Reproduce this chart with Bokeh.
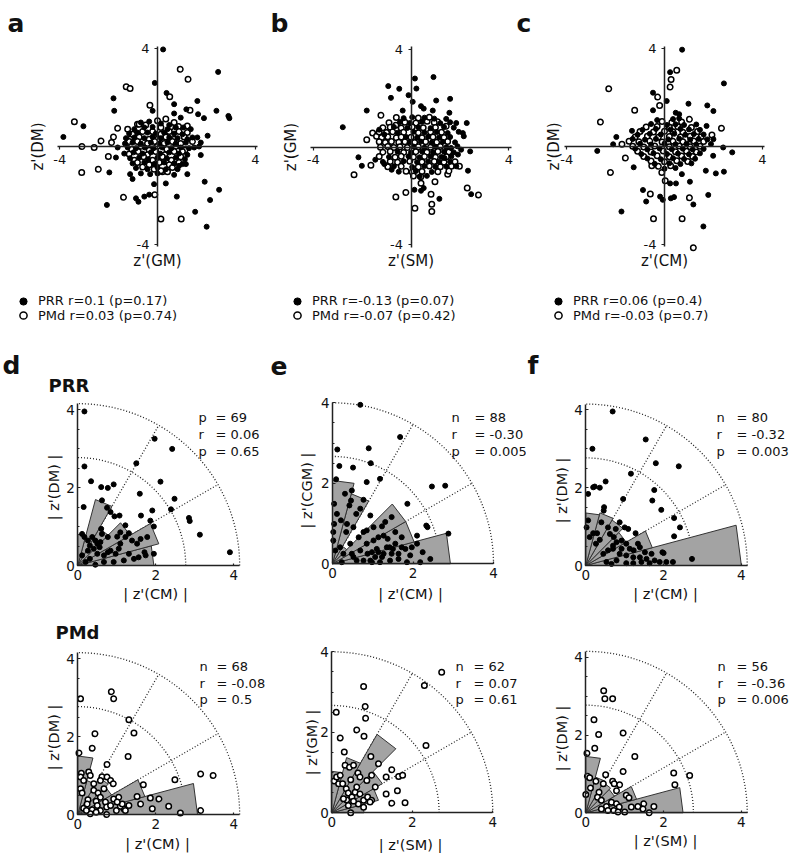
import math
from bokeh.plotting import figure
from bokeh.models import Range1d, LinearAxis, FixedTicker, Label, Legend, LegendItem
from bokeh.layouts import column, row
from bokeh.embed import file_html
from bokeh.resources import INLINE

FONT = "DejaVu Sans"
K = 1.0  # reference pixel -> page pixel

# ------------------------------------------------------------------ data
TOP_TICKS = [-4, 4]
POLAR_TICKS = [0, 2, 4]
POLAR_MINOR = [0.5, 1, 1.5, 2.5, 3, 3.5]
BIN_EDGES_DEG = [0, 15, 30, 45, 60, 75, 90]

# panel a : z'(GM) vs z'(DM)
A_PRR = [(0.23,3.97),(2.48,3.05),(-0.11,2.6),(0.37,2.19),(-1.8,1.97),(1.63,1.86),(-1.77,1.46),(-0.2,1.46),
         (0.68,1.73),(1.18,1.52),(2.41,1.46),(2.9,1.25),(2.94,1.16),(1.9,1.16),(1.66,1.32),(-3.03,0.83),
         (-3.85,0.39),(2.05,0.44),(1.77,-0.35),(-1.97,-1.06),(1.22,-1.13),(1.93,-1.44),(2.52,-1.77),(2.15,-2.19),
         (-2.07,-2.39),(-0.88,-2.12),(-0.78,-2.26),(-0.54,-2.05),(-0.34,-1.97),(0.79,-2.05),(1.54,-2.67),(2.01,-3.28),
         (-0.14,-1.54),(0.34,-1.51),(-1.12,-1.13),(-1.02,-1.33),(-1.63,-0.04),(-1.7,-0.45),(1.16,-0.72),(0.88,-0.79),
         (1.5,-0.04),(1.7,0.0),(0.95,1.18),(1.36,0.71),(1.43,0.37),(0.68,1.35),
         (-0.68,0.98),(-0.34,1.02),(0.14,0.94),(0.48,0.88),
         (-0.95,0.71),(-0.54,0.78),(-0.2,0.8),(0.41,0.71),(0.75,0.78),(1.06,0.78),
         (-1.16,0.53),(-0.82,0.57),(-0.41,0.57),(-0.07,0.53),(0.27,0.57),(0.68,0.53),(1.02,0.5),
         (-1.29,0.34),(-0.95,0.37),(-0.54,0.34),(-0.2,0.39),(0.14,0.34),(0.48,0.37),(0.82,0.34),(1.22,0.3),(1.63,0.37),
         (-1.33,0.12),(-1.02,0.16),(-0.68,0.12),(-0.27,0.16),(0.07,0.12),(0.41,0.16),(0.75,0.12),(1.16,0.16),(1.77,0.16),
         (-1.22,-0.04),(-0.88,-0.07),(-0.52,-0.04),(-0.16,-0.07),(0.2,-0.04),(0.57,-0.07),(0.95,-0.04),(1.29,-0.07),
         (-1.36,-0.29),(-0.98,-0.24),(-0.61,-0.29),(-0.27,-0.24),(0.11,-0.29),(0.48,-0.24),(0.88,-0.29),(1.22,-0.34),
         (-1.12,-0.48),(-0.75,-0.45),(-0.38,-0.52),(0.0,-0.45),(0.38,-0.48),(0.75,-0.45),(1.12,-0.52),
         (-1.02,-0.69),(-0.54,-0.65),(-0.14,-0.72),(0.27,-0.65),(0.68,-0.69),(1.02,-0.72),
         (-0.88,-0.88),(-0.41,-0.93),(0.0,-0.86),(0.34,-0.93),(0.82,-0.93),
         (-0.68,-1.1),(-0.3,-1.13),(0.0,-1.1),(0.68,-1.16)]
A_PMD = [(0.93,3.16),(1.25,2.75),(-1.28,2.44),(-1.12,2.37),(0.5,2.03),(-0.31,1.69),(1.33,1.48),(0.34,1.12),
         (-3.4,1.01),(-1.63,0.75),(-1.8,0.39),(-1.88,0.16),(-2.31,0.23),(-3.09,0.0),(-2.59,-0.04),(-2.01,-0.41),
         (-2.42,-0.93),(-3.1,-1.06),(-1.39,-2.08),(-0.11,-1.97),(0.14,-2.97),(0.97,-2.97),(-0.48,-0.82),(0.2,-1.03),
         (0.41,-1.03),(0.86,0.82),(1.22,0.84),(1.22,0.57),(-0.82,0.91),(-1.09,0.3),
         (-0.75,0.91),(0.0,1.05),(0.68,0.98),
         (-1.22,0.71),(-0.48,0.88),(0.14,0.78),(0.54,0.8),
         (-1.02,0.5),(-0.61,0.61),(-0.2,0.61),(0.14,0.5),(0.48,0.61),(0.88,0.61),
         (-1.12,0.3),(-0.75,0.39),(-0.34,0.3),(0.0,0.3),(0.34,0.39),(0.68,0.3),(1.09,0.39),
         (-1.16,0.2),(-0.82,0.2),(-0.41,0.12),(-0.11,0.2),(0.27,0.12),(0.61,0.2),(0.95,0.12),(1.43,0.2),
         (-1.06,-0.11),(-0.68,0.01),(-0.34,-0.15),(0.0,0.01),(0.38,-0.11),(0.75,0.01),(1.12,-0.15),
         (-1.16,-0.31),(-0.79,-0.2),(-0.41,-0.34),(-0.07,-0.2),(0.3,-0.34),(0.68,-0.2),(1.02,-0.2),
         (-0.95,-0.56),(-0.57,-0.42),(-0.2,-0.56),(0.2,-0.42),(0.57,-0.56),(0.95,-0.42),
         (-0.82,-0.65),(-0.34,-0.75),(0.07,-0.65),(0.48,-0.75),(0.88,-0.65),
         (-0.61,-0.84),(-0.14,-0.93),(0.14,-0.99),(0.61,-0.86)]

# panel b : z'(SM) vs z'(GM)
B_PRR = [(0.16,2.8),(0.92,2.86),(-0.93,2.49),(-0.48,2.38),(0.22,2.39),(-0.82,2.01),(-0.1,2.12),(0.07,1.85),
         (1.03,1.9),(1.6,1.97),(0.41,1.67),(0.52,1.57),(0.89,1.49),(1.57,1.4),(-1.81,1.49),(-2.79,0.81),
         (-0.34,1.49),(1.44,1.15),(2.28,0.98),(1.85,0.98),(2.12,0.57),(2.16,0.44),(2.05,-0.11),(2.42,-0.18),
         (1.92,-0.31),(1.64,-0.04),(-2.15,-0.42),(-2.01,-0.77),(-1.46,-0.52),(-1.09,-0.7),(-0.79,-0.93),(2.33,-0.97),
         (2.46,-1.93),(0.14,-1.75),(0.41,-1.79),(0.52,-1.68),(1.16,-2.12),(-1.3,0.71),(-1.09,0.51),(1.85,-0.79),(1.37,-0.45),
         (-0.3,1.18),(0.05,1.22),(0.55,1.2),(0.95,1.16),
         (-0.45,1.02),(-0.05,0.98),(0.45,1.03),(1.2,0.97),(1.6,1.01),
         (-0.7,0.82),(-0.15,0.78),(0.3,0.81),(0.8,0.77),(1.35,0.82),(1.75,0.79),
         (-0.55,0.58),(0.1,0.62),(0.55,0.59),(1.05,0.61),(1.5,0.57),(1.95,0.62),
         (-0.2,0.41),(0.25,0.38),(0.7,0.42),(1.15,0.39),(1.6,0.41),
         (-0.05,0.19),(0.4,0.22),(0.85,0.18),(1.3,0.21),(1.8,0.19),
         (0.1,0.02),(0.55,-0.02),(1.0,0.01),(1.45,-0.01),(1.9,0.03),
         (-0.55,-0.19),(0.0,-0.22),(0.45,-0.18),(0.9,-0.21),(1.35,-0.19),(1.75,-0.22),
         (-0.9,-0.41),(-0.1,-0.38),(0.35,-0.42),(0.8,-0.39),(1.25,-0.41),(1.65,-0.38),
         (-1.15,-0.61),(-0.3,-0.58),(0.25,-0.62),(0.7,-0.59),(1.15,-0.61),(1.6,-0.6),
         (-0.7,-0.79),(0.05,-0.82),(0.55,-0.78),(1.0,-0.81),(1.45,-0.8),
         (-0.5,-1.01),(0.2,-0.98),(0.85,-1.02),(0.35,-1.21),(0.65,-1.18)]
B_PMD = [(-1.23,1.3),(-1.57,0.57),(-1.81,0.3),(-1.41,0.44),(-1.64,-0.75),(-2.33,-1.14),(-0.62,-2.05),(-0.21,-1.86),
         (0.82,-1.93),(0.85,-2.34),(0.85,-2.64),(0.16,-2.5),(0.98,-1.42),(2.3,-1.68),(2.76,-1.96),(1.98,-0.79),
         (1.5,-1.11),(0.31,1.05),(0.66,1.05),(1.09,1.03),(1.44,0.85),(-0.62,0.89),(0.41,-1.48),
         (-0.6,1.21),(0.3,1.19),(0.75,1.22),
         (-0.9,0.99),(-0.25,1.01),(0.2,0.98),(0.95,1.0),
         (-1.15,0.79),(-0.85,0.81),(-0.4,0.78),(0.05,0.82),(0.5,0.79),(1.0,0.8),
         (-1.3,0.61),(-1.0,0.59),(-0.75,0.62),(-0.3,0.6),(0.3,0.58),(0.8,0.61),(1.25,0.6),
         (-1.2,0.39),(-0.95,0.42),(-0.6,0.38),(-0.4,0.41),(0.0,0.4),(0.45,0.38),(0.9,0.41),(1.35,0.39),
         (-1.3,0.21),(-1.05,0.18),(-0.8,0.22),(-0.5,0.19),(-0.25,0.21),(0.15,0.18),(0.6,0.21),(1.05,0.19),(1.5,0.22),
         (-1.25,-0.01),(-0.95,0.02),(-0.7,-0.02),(-0.45,0.01),(-0.15,-0.02),(0.3,0.01),(0.8,-0.01),(1.2,0.02),
         (-1.15,-0.21),(-0.85,-0.18),(-0.3,-0.22),(0.2,-0.19),(0.65,-0.21),(1.1,-0.18),(1.55,-0.2),
         (-1.3,-0.39),(-0.65,-0.42),(-0.4,-0.38),(0.1,-0.41),(0.55,-0.39),(1.0,-0.42),(1.45,-0.4),
         (-0.85,-0.59),(-0.55,-0.62),(-0.05,-0.58),(0.45,-0.61),(0.95,-0.59),(1.35,-0.62),(1.8,-0.6),
         (-0.95,-0.81),(-0.4,-0.79),(0.3,-0.82),(0.75,-0.78),(1.2,-0.81),(1.65,-0.79),
         (-0.2,-0.99),(0.05,-1.02),(0.45,-1.0),(1.1,-1.01),(1.55,-0.98),(0.1,-1.19),(0.4,-1.22)]

# panel c : z'(CM) vs z'(DM)
C_PRR = [(0.72,3.96),(0.23,3.04),(2.43,2.58),(-0.47,2.2),(0.09,1.86),(0.98,1.75),(1.75,1.68),(2.0,1.45),
         (-0.47,1.48),(0.46,1.38),(0.6,1.32),(-1.33,0.64),(-1.97,0.39),(-2.1,0.09),(-2.75,-0.18),(1.72,0.84),
         (2.0,0.3),(2.4,-0.04),(2.77,-0.24),(1.99,-0.38),(-1.26,-0.85),(1.69,-0.99),(2.1,-1.1),(2.43,-1.03),
         (0.71,-1.13),(0.23,-1.51),(0.47,-1.51),(1.04,-1.44),(-0.88,-1.78),(-0.75,-2.25),(-0.18,-2.05),(-0.07,-2.18),
         (0.26,-2.12),(0.39,-2.07),(1.18,-2.37),(1.79,-1.98),(-1.76,-2.66),(1.59,-3.27),
         (-0.3,1.08),(0.35,1.12),(0.6,1.15),
         (-0.55,0.92),(0.1,0.88),(0.45,0.91),(0.8,0.88),(1.3,0.9),
         (-0.9,0.68),(-0.35,0.72),(0.25,0.69),(0.65,0.72),(1.0,0.7),(1.45,0.68),
         (-1.1,0.48),(-0.6,0.52),(-0.15,0.49),(0.4,0.52),(0.85,0.48),(1.2,0.51),(1.6,0.49),
         (-1.3,0.31),(-0.8,0.28),(-0.35,0.31),(0.15,0.29),(0.6,0.32),(1.05,0.28),(1.4,0.31),(1.75,0.29),
         (-1.0,0.11),(-0.55,0.08),(0.0,0.12),(0.45,0.09),(0.9,0.11),(1.3,0.08),(1.9,0.1),
         (-1.2,-0.09),(-0.7,-0.12),(-0.2,-0.08),(0.3,-0.11),(0.75,-0.09),(1.15,-0.12),(1.6,-0.1),
         (-0.95,-0.31),(-0.45,-0.28),(0.1,-0.31),(0.55,-0.29),(1.0,-0.32),(1.45,-0.28),
         (-0.7,-0.49),(-0.15,-0.52),(0.35,-0.48),(0.8,-0.51),(1.25,-0.5),
         (-0.4,-0.71),(0.2,-0.68),(0.65,-0.72),(1.1,-0.69),(0.0,-0.91),(0.45,-0.88)]
C_PMD = [(0.5,3.12),(0.27,2.74),(0.23,2.43),(-2.28,2.36),(-0.28,2.02),(-0.2,1.68),(-1.22,1.48),(-2.62,1.0),
         (1.02,1.11),(2.33,0.75),(1.94,0.47),(-1.74,0.09),(-1.6,-0.47),(-2.21,-1.06),(-0.58,-1.94),(-0.45,-2.96),
         (0.72,-2.96),(1.02,-2.1),(1.18,-4.14),(0.03,-1.4),(-0.52,-0.79),(-0.11,-1.06),
         (-0.1,1.02),(0.3,0.98),(0.7,1.0),
         (-0.75,0.8),(-0.3,0.82),(0.2,0.79),(0.55,0.81),(1.1,0.78),
         (-1.0,0.61),(-0.45,0.59),(0.0,0.62),(0.35,0.6),(0.75,0.58),(1.35,0.61),
         (-1.2,0.39),(-0.7,0.42),(-0.25,0.38),(0.2,0.41),(0.65,0.39),(1.05,0.42),(1.5,0.4),
         (-1.45,0.21),(-1.05,0.19),(-0.6,0.22),(-0.1,0.18),(0.35,0.21),(0.75,0.19),(1.2,0.22),(1.6,0.2),
         (-1.3,0.01),(-0.85,-0.02),(-0.4,0.02),(0.2,-0.01),(0.6,0.02),(1.05,-0.01),(1.45,0.01),
         (-1.1,-0.19),(-0.55,-0.22),(-0.05,-0.18),(0.45,-0.21),(0.9,-0.19),(1.3,-0.22),
         (-0.85,-0.41),(-0.3,-0.38),(0.2,-0.42),(0.7,-0.39),(1.15,-0.41),
         (-0.55,-0.59),(0.0,-0.62),(0.5,-0.58),(0.95,-0.61),(-0.25,-0.81),(0.25,-0.79)]

A_LEGEND = ["PRR r=0.1 (p=0.17)", "PMd r=0.03 (p=0.74)"]
B_LEGEND = ["PRR r=-0.13 (p=0.07)", "PMd r=-0.07 (p=0.42)"]
C_LEGEND = ["PRR r=0.06 (p=0.4)", "PMd r=-0.03 (p=0.7)"]

# polar panels: |z'| pairs and rose radii (per 15 deg bin)
D_PRR = [(0.17,3.95),(1.97,3.25),(2.42,2.99),(0.17,2.54),(1.5,2.62),(0.34,2.16),(0.6,2.01),(0.77,1.99),
         (0.92,2.08),(2.12,2.15),(1.59,1.84),(2.48,1.71),(2.39,1.44),(2.85,1.22),(2.87,1.14),(3.13,0.79),
         (3.9,0.34),(0.15,1.5),(0.62,1.67),(0.75,1.48),(0.94,1.26),(1.07,1.28),(1.62,1.28),(1.91,1.41),
         (1.95,1.0),(1.86,1.15),(1.22,1.03),(0.84,1.37),(0.11,0.81),(0.17,0.73),(0.26,0.64),(0.31,0.51),
         (0.37,0.73),(0.45,0.64),(0.5,0.56),(0.41,0.43),(0.58,0.6),(0.56,0.47),(0.26,0.38),(0.5,0.3),
         (0.67,0.26),(0.77,0.34),(0.84,0.38),(0.97,0.3),(1.05,0.43),(1.09,0.56),(1.22,0.73),(1.31,0.83),
         (1.39,0.64),(1.52,0.56),(1.61,0.68),(1.71,0.34),(1.74,0.26),(1.78,0.73),(1.44,0.17),(1.18,0.13),
         (0.92,0.09),(0.67,0.09),(0.45,0.02),(0.2,0.09),(0.11,0.26),(0.31,0.17),(1.01,0.74),(0.77,0.73),
         (0.62,0.81),(1.09,0.85),(1.31,0.3),(1.56,0.21),(1.95,0.3),(0.6,0.94)]
E_PRR = [(0.69,3.95),(1.68,3.15),(0.12,2.84),(0.9,2.87),(0.95,2.5),(0.17,2.43),(0.51,2.39),(1.18,2.11),
         (0.09,2.1),(0.85,2.03),(2.47,1.92),(2.8,1.94),(0.48,1.82),(0.31,1.74),(0.46,1.57),(0.77,1.59),
         (0.69,1.37),(0.94,1.2),(1.86,1.49),(1.47,1.16),(1.31,1.04),(1.23,0.93),(2.33,0.95),(2.36,0.91),
         (2.88,0.75),(0.04,1.49),(0.11,1.24),(0.04,0.99),(0.02,0.79),(0.21,1.08),(0.36,0.99),(0.42,1.45),
         (0.59,1.24),(0.34,0.79),(0.52,0.91),(0.65,0.66),(0.85,0.83),(1.02,0.91),(1.14,0.66),(1.27,0.7),
         (1.37,0.62),(1.02,0.58),(0.85,0.5),(0.69,0.33),(0.52,0.17),(0.77,0.08),(0.94,0.08),(0.87,0.25),
         (1.14,0.29),(1.27,0.25),(1.42,0.41),(1.56,0.5),(1.72,0.66),(1.81,0.37),(1.97,0.41),(2.1,0.5),
         (2.1,0.7),(2.24,0.29),(2.43,0.12),(1.85,0.04),(1.64,0.12),(1.43,0.08),(1.18,0.04),(0.48,0.25),
         (0.27,0.25),(0.19,0.41),(0.02,0.58),(1.06,0.17),(1.47,0.25),(1.64,0.25),(1.56,0.79),(1.1,0.37),
         (0.98,0.04),(0.07,0.33),(0.77,0.79),(0.44,0.5),(1.23,0.17),(1.93,0.21),(2.18,0.04),(0.6,0.08),
         (0.23,0.04),(1.5,0.37),(1.72,0.41),(1.35,0.41),(0.98,0.29)]
F_PRR = [(0.69,3.96),(0.17,3.0),(1.54,3.24),(1.8,2.63),(2.39,2.55),(1.16,2.36),(0.51,2.16),(0.23,2.03),
         (0.36,2.0),(0.06,1.84),(0.19,2.01),(0.96,1.71),(1.76,1.94),(1.71,1.67),(1.94,1.43),(0.47,1.5),
         (0.46,1.41),(2.27,1.22),(2.42,0.98),(2.27,0.75),(1.28,0.83),(0.87,1.11),(1.0,0.98),(1.09,0.94),
         (0.06,1.16),(0.19,0.83),(0.29,0.83),(0.4,1.11),(0.57,0.98),(0.62,0.81),(0.72,0.73),(0.79,0.6),
         (0.92,0.64),(1.04,0.56),(1.34,0.56),(1.39,0.47),(1.13,0.43),(1.23,0.39),(0.7,0.43),(0.87,0.3),
         (1.04,0.26),(1.22,0.21),(1.39,0.21),(1.56,0.17),(1.77,0.13),(1.97,0.34),(2.0,0.32),(2.07,0.09),
         (2.24,0.09),(1.9,0.09),(2.73,0.17),(0.53,0.09),(0.66,0.04),(0.79,0.13),(1.04,0.06),(1.22,0.06),
         (1.43,0.09),(1.64,0.06),(0.45,0.3),(0.57,0.39),(0.26,0.56),(0.36,0.66),(0.1,0.73),(0.02,0.98),
         (0.7,0.51),(0.92,0.43),(1.52,0.34),(1.69,0.3),(0.77,0.94)]
D_PMD = [(0.07,2.97),(0.86,3.15),(0.92,2.97),(1.31,2.43),(1.44,2.09),(0.44,2.07),(0.37,1.7),(1.29,1.49),
         (0.03,1.58),(0.75,1.28),(3.15,1.04),(3.47,1.0),(2.49,0.89),(1.68,0.76),(0.09,1.06),(0.07,0.96),
         (0.28,1.09),(0.32,1.0),(0.62,0.97),(0.75,0.96),(0.84,0.87),(0.91,0.79),(0.07,0.66),(0.11,0.55),
         (0.26,0.38),(0.41,0.62),(0.52,0.55),(0.58,0.44),(0.47,0.34),(0.5,0.23),(0.37,0.12),(0.58,0.1),
         (0.71,0.32),(0.74,0.19),(0.32,0.02),(0.74,0.0),(0.92,0.4),(1.05,0.44),(1.18,0.15),(1.09,0.21),
         (0.99,0.1),(1.52,0.46),(1.86,0.42),(2.08,0.4),(1.91,0.15),(2.33,0.21),(2.63,0.04),(3.15,0.1),
         (0.15,0.16),(0.24,0.27),(0.58,0.87),(0.41,0.79),(0.67,0.66),(1.22,0.1),(1.14,0.27),(1.31,0.23),
         (0.22,0.1),(0.47,0.06),(0.84,0.23),(1.01,0.32),(1.61,0.27),(0.15,0.87)]
E_PMD = [(2.73,3.49),(2.3,3.16),(0.79,3.14),(0.83,2.64),(0.84,2.35),(0.11,2.5),(0.62,2.06),(0.8,1.9),
         (0.21,1.86),(2.34,1.67),(0.97,1.4),(0.31,1.51),(1.49,1.07),(1.66,0.9),(1.76,0.93),(1.35,0.89),
         (1.63,0.55),(1.35,0.47),(1.49,0.24),(1.82,0.25),(0.47,0.0),(0.06,0.79),(0.12,0.89),(0.21,0.93),
         (0.17,0.72),(0.27,0.72),(0.33,1.18),(0.44,1.13),(0.54,1.18),(0.65,0.99),(0.7,0.89),(0.47,0.82),
         (0.36,0.6),(0.41,0.49),(0.5,0.39),(0.37,0.32),(0.29,0.35),(0.58,0.51),(0.7,0.47),(0.79,0.31),
         (0.89,0.39),(0.99,0.31),(0.95,0.27),(0.66,0.22),(0.79,0.14),(0.41,0.18),(0.54,0.29),(1.08,0.64),
         (0.87,0.8),(0.99,0.93),(1.16,1.22),(0.62,0.64)]
F_PMD = [(0.46,3.14),(0.49,2.93),(0.69,2.93),(0.21,2.39),(0.33,2.01),(0.96,2.05),(0.23,1.66),(0.03,1.53),
         (1.26,1.45),(0.96,1.06),(2.26,1.02),(2.67,0.96),(2.29,0.72),(0.51,0.98),(0.04,0.94),(0.1,0.9),
         (0.26,0.81),(0.45,0.75),(0.69,0.81),(0.73,0.75),(0.87,0.72),(0.12,0.64),(0.34,0.53),(0.0,0.47),
         (0.3,0.4),(0.4,0.32),(0.79,0.57),(1.04,0.45),(1.11,0.39),(0.53,0.16),(0.66,0.27),(0.79,0.23),
         (0.57,0.06),(0.72,0.06),(0.86,0.15),(1.0,0.02),(1.17,0.15),(1.34,0.16),(1.49,0.23),(1.47,0.1),
         (1.63,0.0),(1.75,0.16),(0.83,0.02),(0.4,0.1)]

D_PRR_ROSE = [1.95, 2.15, 1.55, 1.1, 1.75, 0.8]
E_PRR_ROSE = [2.93, 2.1, 2.1, 0.5, 1.8, 2.07]
F_PRR_ROSE = [4.0, 1.77, 1.2, 1.35, 1.4, 1.35]
D_PMD_ROSE = [3.07, 1.78, 1.0, 1.1, 0.9, 1.5]
E_PMD_ROSE = [0.8, 1.2, 1.45, 2.25, 1.42, 1.03]
F_PMD_ROSE = [2.5, 1.35, 0.85, 0.9, 0.95, 1.45]

STAT_NAMES_D_PRR = ["p", "r", "p"]
STAT_NAMES = ["n", "r", "p"]
D_PRR_STATS = ["= 69", "= 0.06", "= 0.65"]
E_PRR_STATS = ["= 88", "= -0.30", "= 0.005"]
F_PRR_STATS = ["= 80", "= -0.32", "= 0.003"]
D_PMD_STATS = ["= 68", "= -0.08", "= 0.5"]
E_PMD_STATS = ["= 62", "= 0.07", "= 0.61"]
F_PMD_STATS = ["= 56", "= -0.36", "= 0.006"]

# ------------------------------------------------------------------ layout helpers
INK = "#111111"
DOT = 5.0
RING = 5.5
RING_W = 1.5


def pg(v):
    return int(round(K * v))


def make_fig(ix0, ix1, iy0, iy1, ox, oy, s):
    P0, P1, Q0, Q1 = pg(ix0), pg(ix1), pg(iy0), pg(iy1)
    p = figure(width=P1 - P0, height=Q1 - Q0,
               x_range=Range1d(start=(P0 / K - ox) / s, end=(P1 / K - ox) / s),
               y_range=Range1d(start=(oy - Q1 / K) / s, end=(oy - Q0 / K) / s),
               output_backend="svg", toolbar_location=None,
               x_axis_location=None, y_axis_location=None,
               min_border=0, outline_line_color=None)
    p.background_fill_color = "white"
    p.border_fill_color = "white"
    p.xgrid.visible = False
    p.ygrid.visible = False
    g = dict(P0=P0, Q0=Q0, W=P1 - P0, H=Q1 - Q0, ox=ox, oy=oy, s=s)
    return p, g


def txt(p, g, ix, iy, text, size, bold=False, align="left", baseline="alphabetic", angle=0.0):
    p.add_layout(Label(x=(ix - g["ox"]) / g["s"], y=(g["oy"] - iy) / g["s"], text=text,
                       text_font=FONT, text_font_size=f"{size * K:.1f}px",
                       text_font_style="bold" if bold else "normal",
                       text_align=align, text_baseline=baseline, angle=angle, text_color=INK))


def axis_common(ax, size=12.5):
    ax.axis_line_width = 1.5
    ax.axis_line_color = "#222222"
    ax.major_tick_line_color = "#222222"
    ax.major_tick_line_width = 1.2
    ax.minor_tick_line_color = "#222222"
    ax.major_label_text_font = FONT
    ax.major_label_text_font_size = f"{size * K:.1f}px"
    ax.major_label_text_color = INK


def cross_axes(p):
    labels = {t: str(t) for t in TOP_TICKS}
    xa = LinearAxis(fixed_location=0, ticker=FixedTicker(ticks=TOP_TICKS), bounds=(-4.1, 4.1),
                    major_tick_in=0, major_tick_out=3, minor_tick_in=0, minor_tick_out=0,
                    major_label_standoff=5, major_label_overrides=labels)
    ya = LinearAxis(fixed_location=0, ticker=FixedTicker(ticks=TOP_TICKS), bounds=(-4.1, 4.1),
                    major_tick_in=0, major_tick_out=3, minor_tick_in=0, minor_tick_out=0,
                    major_label_standoff=5, major_label_overrides=labels)
    axis_common(xa, 13)
    axis_common(ya, 13)
    p.add_layout(xa, "below")
    p.add_layout(ya, "left")


def legend_row(p, g, renderer, label, mx, yc, tx):
    G = 18
    lx = K * mx - g["P0"] - G / 2
    ly = g["H"] - (K * yc - g["Q0"] + G / 2)
    leg = Legend(items=[LegendItem(label=label, renderers=[renderer])], location=(lx, ly),
                 glyph_width=G, glyph_height=G, label_height=G, padding=0, margin=0, spacing=0,
                 border_line_color=None, background_fill_alpha=0,
                 label_standoff=int(round(K * tx - g["P0"] - (lx + G))),
                 label_text_font=FONT, label_text_font_size=f"{13 * K:.1f}px", label_text_color=INK)
    p.add_layout(leg)


def scatter_panel(ix0, ix1, origin, prr, pmd, letter, letter_x, xlab, ylab, ylab_x, leg_labels, leg_mx, leg_tx):
    s = 24.45
    p, g = make_fig(ix0, ix1, 0, 340, origin[0], origin[1], s)
    cross_axes(p)
    r2 = p.scatter([v[0] for v in pmd], [v[1] for v in pmd], size=RING * K, fill_color="white",
                   line_color="black", line_width=RING_W)
    r1 = p.scatter([v[0] for v in prr], [v[1] for v in prr], size=DOT * K, fill_color="black", line_color="black")
    txt(p, g, letter_x, 23, letter, 25, bold=True)
    txt(p, g, origin[0], 260, xlab, 15, align="center", baseline="middle")
    txt(p, g, ylab_x, origin[1], ylab, 15, align="center", baseline="middle", angle=math.pi / 2)
    legend_row(p, g, r1, leg_labels[0], leg_mx, 300.5, leg_tx)
    legend_row(p, g, r2, leg_labels[1], leg_mx, 315, leg_tx)
    return p


def polar_panel(ix0, ix1, iy0, iy1, origin, s, R, pts, rose, filled, names, stats, stat_x, stat_y,
                xlab, xlab_pos, ylab, ylab_pos):
    p, g = make_fig(ix0, ix1, iy0, iy1, origin[0], origin[1], s)
    # dotted guide arcs and radial lines
    p.arc(x=[0, 0], y=[0, 0], radius=[R, R * 2 / 3], start_angle=0, end_angle=math.pi / 2,
          line_color="#222222", line_dash="1 2", line_width=1.3)
    p.segment(x0=[0, 0], y0=[0, 0],
              x1=[R * math.cos(math.radians(30)), R * math.cos(math.radians(60))],
              y1=[R * math.sin(math.radians(30)), R * math.sin(math.radians(60))],
              line_color="#222222", line_dash="1 2", line_width=1.3)
    # rose wedges
    xs, ys = [], []
    for i, r in enumerate(rose):
        a0 = math.radians(BIN_EDGES_DEG[i])
        a1 = math.radians(BIN_EDGES_DEG[i + 1])
        xs.append([0, r * math.cos(a0), r * math.cos(a1)])
        ys.append([0, r * math.sin(a0), r * math.sin(a1)])
    p.patches(xs, ys, fill_color="#a3a3a3", line_color="#333333", line_width=1)
    px = [v[0] for v in pts]
    py = [v[1] for v in pts]
    if filled:
        p.scatter(px, py, size=DOT * K, fill_color="black", line_color="black")
    else:
        p.scatter(px, py, size=RING * K, fill_color="white", line_color="black", line_width=RING_W)
    xa = LinearAxis(fixed_location=0, ticker=FixedTicker(ticks=POLAR_TICKS), bounds=(0, R),
                    major_tick_in=2, major_tick_out=0, minor_tick_in=0, minor_tick_out=0,
                    major_label_standoff=4)
    ya = LinearAxis(fixed_location=0, ticker=FixedTicker(ticks=POLAR_TICKS, minor_ticks=POLAR_MINOR),
                    bounds=(0, R), major_tick_in=3, major_tick_out=0, minor_tick_in=2, minor_tick_out=0,
                    major_label_standoff=3)
    axis_common(xa, 13.5)
    axis_common(ya, 13.5)
    p.add_layout(xa, "below")
    p.add_layout(ya, "left")
    for k in range(3):
        txt(p, g, stat_x[0], stat_y[k], names[k], 13)
        txt(p, g, stat_x[1], stat_y[k], stats[k], 13)
    txt(p, g, xlab_pos[0], xlab_pos[1], xlab, 14.5, align="center", baseline="middle")
    txt(p, g, ylab_pos[0], ylab_pos[1], ylab, 14.5, align="center", baseline="middle", angle=math.pi / 2)
    return p, g


# ------------------------------------------------------------------ build
pa = scatter_panel(0, 263, (157, 146), A_PRR, A_PMD, "a", 7, "z'(GM)", "z'(DM)", 37, A_LEGEND, 23, 38)
pb = scatter_panel(263, 515, (410.5, 146.5), B_PRR, B_PMD, "b", 270, "z'(SM)", "z'(GM)", 290, B_LEGEND, 297, 312)
pc = scatter_panel(515, 789, (664, 146), C_PRR, C_PMD, "c", 516, "z'(CM)", "z'(DM)", 553, C_LEGEND, 558, 573)

TOPS = [417, 434, 451]
BOTS = [666, 683, 699]
ROW2 = (340, 604)
ROW3 = (604, 853)

pd1, gd1 = polar_panel(0, 266, ROW2[0], ROW2[1], (77.3, 565), 39.0, 4.15, D_PRR, D_PRR_ROSE, True,
                       STAT_NAMES_D_PRR, D_PRR_STATS, (198, 215), TOPS,
                       "| z'(CM) |", (155, 593), "| z'(DM) |", (53, 487))
txt(pd1, gd1, 2, 365, "d", 25, bold=True)
txt(pd1, gd1, 48, 385, "PRR", 18, bold=True)
pe1, ge1 = polar_panel(266, 526, ROW2[0], ROW2[1], (332, 563.3), 40.25, 4.0, E_PRR, E_PRR_ROSE, True,
                       STAT_NAMES, E_PRR_STATS, (451, 474), TOPS,
                       "| z'(CM) |", (410, 593), "| z'(CGM) |", (306, 490))
txt(pe1, ge1, 270, 365, "e", 25, bold=True)
pf1, gf1 = polar_panel(526, 789, ROW2[0], ROW2[1], (585.3, 565), 38.9, 4.15, F_PRR, F_PRR_ROSE, True,
                       STAT_NAMES, F_PRR_STATS, (716, 736), TOPS,
                       "| z'(CM) |", (665, 593), "| z'(DM) |", (561, 490))
txt(pf1, gf1, 527, 365, "f", 25, bold=True)

pd2, gd2 = polar_panel(0, 266, ROW3[0], ROW3[1], (77.3, 814), 39.0, 4.15, D_PMD, D_PMD_ROSE, False,
                       STAT_NAMES, D_PMD_STATS, (199, 216), BOTS,
                       "| z'(CM) |", (157, 843), "| z'(DM) |", (53, 737))
txt(pd2, gd2, 55, 632, "PMd", 18, bold=True)
pe2, ge2 = polar_panel(266, 526, ROW3[0], ROW3[1], (331.3, 812.3), 40.25, 4.0, E_PMD, E_PMD_ROSE, False,
                       STAT_NAMES, E_PMD_STATS, (455, 473), BOTS,
                       "| z'(SM) |", (410, 844), "| z'(GM) |", (311, 742))
pf2, gf2 = polar_panel(526, 789, ROW3[0], ROW3[1], (585.3, 812.3), 38.9, 4.15, F_PMD, F_PMD_ROSE, False,
                       STAT_NAMES, F_PMD_STATS, (717, 736), BOTS,
                       "| z'(SM) |", (665, 840), "| z'(DM) |", (561, 738))

layout = column(row(pa, pb, pc), row(pd1, pe1, pf1), row(pd2, pe2, pf2))

open("out.html", "w").write(file_html(layout, INLINE))
